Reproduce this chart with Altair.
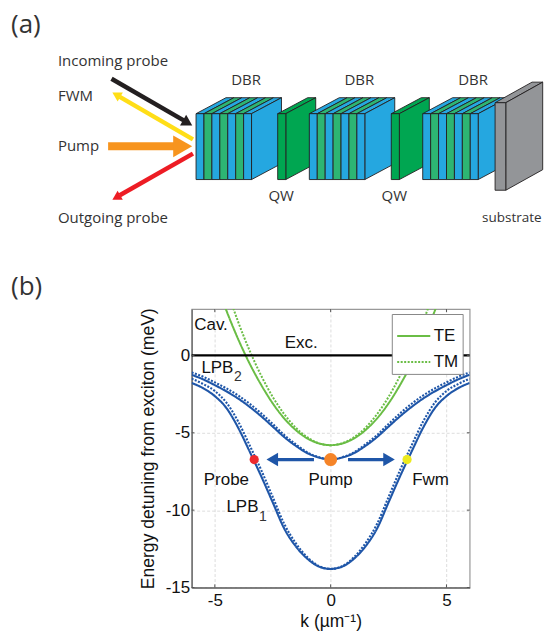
import altair as alt
import pandas as pd

# ---------- panel (b) data ----------
lp_k = [-6, -5.5, -5, -4.5, -4, -3.5, -3, -2.5, -2, -1.5, -1, -0.5, 0,
        0.5, 1, 1.5, 2, 2.5, 3, 3.5, 4, 4.5, 5, 5.5, 6]
lpb2_te = [-1.25, -1.55, -1.92, -2.32, -2.78, -3.32, -3.93, -4.6, -5.28, -5.85, -6.32, -6.6, -6.72,
           -6.6, -6.32, -5.85, -5.28, -4.6, -3.93, -3.32, -2.78, -2.32, -1.92, -1.55, -1.25]
lpb2_tm = [-1.1, -1.38, -1.74, -2.13, -2.58, -3.12, -3.74, -4.43, -5.15, -5.75, -6.27, -6.58, -6.72,
           -6.58, -6.27, -5.75, -5.15, -4.43, -3.74, -3.12, -2.58, -2.13, -1.74, -1.38, -1.1]
lpb1_te = [-1.78, -2.12, -2.63, -3.4, -4.65, -6.2, -7.8, -9.5, -11.2, -12.35, -13.15, -13.65, -13.8,
           -13.65, -13.15, -12.35, -11.2, -9.5, -7.8, -6.2, -4.65, -3.4, -2.63, -2.12, -1.78]
lpb1_tm = [-1.5, -1.85, -2.3, -3.05, -4.25, -5.8, -7.4, -9.15, -10.9, -12.15, -13.05, -13.62, -13.8,
           -13.62, -13.05, -12.15, -10.9, -9.15, -7.4, -5.8, -4.25, -3.05, -2.3, -1.85, -1.5]
cav_k = [-5, -4.5, -4, -3.5, -3, -2.5, -2, -1.5, -1, -0.5, 0, 0.5, 1, 1.5, 2, 2.5, 3, 3.5, 4, 4.5, 5]
cav_te = [4.95, 2.9, 1.08, -0.52, -1.9, -3.1, -4.08, -4.83, -5.37, -5.69, -5.8,
          -5.69, -5.37, -4.83, -4.08, -3.1, -1.9, -0.52, 1.08, 2.9, 4.95]
cav_tm = [6.7, 4.35, 2.2, 0.32, -1.3, -2.68, -3.8, -4.68, -5.3, -5.68, -5.8,
          -5.68, -5.3, -4.68, -3.8, -2.68, -1.3, 0.32, 2.2, 4.35, 6.7]

point_names = ["Probe", "Pump", "Fwm"]
point_k = [-3.3, 0, 3.3]
point_e = [-6.73, -6.73, -6.73]
point_colors = ["#ee2a2e", "#f58428", "#ecea1e"]
point_sizes = [85, 170, 85]

plot_labels = ["Cav.", "Exc.", "LPB", "Probe", "Pump", "Fwm", "LPB"]
plot_label_k = [-5.89, -1.27, -5.58, -4.5, 0, 4.31, -4.5]
plot_label_e = [1.98, 0.8, -0.81, -8.02, -8.02, -8.02, -9.78]
plot_label_align = ["left", "center", "left", "center", "center", "center", "left"]
sub_labels = ["2", "1"]
sub_k = [-4.0, -2.92]
sub_e = [-1.37, -10.45]

arrow_k0 = [-0.72, 0.75]
arrow_k1 = [-2.4, 2.4]
arrow_tip_k = [-2.52, 2.52]
arrow_e = [-6.73, -6.73]
arrow_shape = ["triangle-left", "triangle-right"]

x_ticks = [-5, 0, 5]
y_ticks = [-15, -10, -5, 0]

# ---------- panel (a) data ----------
stripe_colors = ["#25a7e0", "#2db573", "#25a7e0", "#2db573", "#25a7e0", "#2db573", "#25a7e0"]
dbr_left = [196.4, 309.9, 423.5]
qw_left = [278.2, 392.0]
block_top, block_bottom = 113.3, 179.3
stripe_w = 7.94
depth_x, depth_y = 30, 16
qw_w = 8.1
sub_left, sub_right, sub_top, sub_bottom = 496, 506.7, 102.3, 190
sub_dx, sub_dy = 37, 20.6
blue, green_qw, gray, edge = "#25a7e0", "#00a651", "#939598", "#231f20"

diagram_labels = ["Incoming probe", "FWM", "Pump", "Outgoing probe",
                  "DBR", "DBR", "DBR", "QW", "QW"]
diagram_x = [58, 58, 58, 58, 246.5, 360, 474, 281.7, 395]
diagram_y = [61, 96, 146, 217.7, 80, 80, 80, 195.7, 195.7]
diagram_align = ["left"] * 4 + ["center"] * 5
substrate_label = ["substrate"]
substrate_x = [483]
substrate_y = [218]
panel_tags = ["(a)", "(b)"]
panel_tag_x = [11, 11]
panel_tag_y = [24, 287]

beam_x0 = [111.7, 193.3, 108.3, 193.3]
beam_y0 = [78.3, 139, 146, 153.3]
beam_x1 = [184, 120, 175, 120]
beam_y1 = [120, 96.5, 146, 195]
beam_colors = ["#231f20", "#ffde17", "#f7941e", "#ed1c24"]
beam_w = [4.5, 4.5, 8, 4.5]
head_x = [188, 116.5, 183, 116.5]
head_y = [122.4, 94.3, 146, 197.2]
head_angle = [120, 300, 90, 240]
head_size = [150, 110, 480, 110]

# ---------- panel (a) ----------
W_A, H_A = 536, 299
sx = alt.Scale(domain=[8, 8 + W_A], nice=False, zero=False)
sy = alt.Scale(domain=[8 + H_A, 8], nice=False, zero=False)
X = alt.X("x:Q", scale=sx, axis=None)
Y = alt.Y("y:Q", scale=sy, axis=None)
LW = 0.9


def area_v(rows):
    d = pd.DataFrame(rows, columns=["face", "x", "y", "y2", "c"])
    return alt.Chart(d).mark_area(orient="vertical", stroke=edge, strokeWidth=LW, opacity=1, strokeJoin="round").encode(
        x=X, y=Y, y2="y2:Q", detail="face:N", fill=alt.Fill("c:N", scale=None))


def area_h(rows):
    d = pd.DataFrame(rows, columns=["face", "y", "x", "x2", "c"])
    return alt.Chart(d).mark_area(orient="horizontal", stroke=edge, strokeWidth=LW, opacity=1, strokeJoin="round").encode(
        y=Y, x=X, x2="x2:Q", detail="face:N", fill=alt.Fill("c:N", scale=None))


def dbr(left):
    tops, fronts = [], []
    right = left + stripe_w * len(stripe_colors)
    for i, c in enumerate(stripe_colors):
        a = left + i * stripe_w
        b = a + stripe_w
        tops += [[i, block_top, a, b, c], [i, block_top - depth_y, a + depth_x, b + depth_x, c]]
        fronts += [[i, a, block_top, block_bottom, c], [i, b, block_top, block_bottom, c]]
    side = [[9, right, block_top, block_bottom, blue],
            [9, right + depth_x, block_top - depth_y, block_bottom - depth_y, blue]]
    return [area_h(tops), area_v(side), area_v(fronts)]


def box(left, w, top, bottom, dx, dy, c):
    right = left + w
    t = [[0, top, left, right, c], [0, top - dy, left + dx, right + dx, c]]
    s = [[1, right, top, bottom, c], [1, right + dx, top - dy, bottom - dy, c]]
    f = [[2, left, top, bottom, c], [2, right, top, bottom, c]]
    return [area_h(t), area_v(s), area_v(f)]


layers_a = []
layers_a += dbr(dbr_left[0]) + box(qw_left[0], qw_w, block_top, block_bottom, depth_x, depth_y, green_qw)
layers_a += dbr(dbr_left[1]) + box(qw_left[1], qw_w, block_top, block_bottom, depth_x, depth_y, green_qw)
layers_a += dbr(dbr_left[2])
layers_a += box(sub_left, sub_right - sub_left, sub_top, sub_bottom, sub_dx, sub_dy, gray)

for i in range(len(beam_colors)):
    beam = pd.DataFrame({"x": [beam_x0[i]], "y": [beam_y0[i]], "x2": [beam_x1[i]], "y2": [beam_y1[i]]})
    layers_a.append(alt.Chart(beam).mark_rule(color=beam_colors[i], strokeWidth=beam_w[i]).encode(
        x=X, y=Y, x2="x2:Q", y2="y2:Q"))
    head = pd.DataFrame({"x": [head_x[i]], "y": [head_y[i]]})
    layers_a.append(alt.Chart(head).mark_point(shape="triangle-up", filled=True, opacity=1, strokeWidth=0,
                                               size=head_size[i], angle=head_angle[i],
                                               color=beam_colors[i]).encode(x=X, y=Y))

diag_df = pd.DataFrame({"t": diagram_labels, "x": diagram_x, "y": diagram_y, "a": diagram_align})
for al in ["left", "center"]:
    layers_a.append(alt.Chart(diag_df[diag_df.a == al]).mark_text(
        font="Open Sans", fontSize=15, color="#333333", align=al, baseline="middle").encode(x=X, y=Y, text="t:N"))
sub_text = pd.DataFrame({"t": substrate_label, "x": substrate_x, "y": substrate_y})
layers_a.append(alt.Chart(sub_text).mark_text(
    font="Open Sans", fontSize=13.5, color="#333333", align="left", baseline="middle").encode(x=X, y=Y, text="t:N"))
tag_df = pd.DataFrame({"t": panel_tags, "x": panel_tag_x, "y": panel_tag_y})
layers_a.append(alt.Chart(tag_df).mark_text(
    font="Open Sans", fontSize=26, color="#333333", align="left", baseline="middle").encode(x=X, y=Y, text="t:N"))

panel_a = alt.layer(*layers_a).properties(width=W_A, height=H_A)

# ---------- panel (b) ----------
W_B, H_B = 278.5, 279
kx = alt.Scale(domain=[-6, 6], nice=False, zero=False)
ey = alt.Scale(domain=[-15, 3], nice=False, zero=False)
FONT = "Liberation Sans"
AX = dict(labelFont=FONT, labelFontSize=17, labelColor="#111111", titleFont=FONT,
          titleFontWeight="normal", titleColor="#111111", gridColor="#dddddd", gridDash=[3, 2], grid=True,
          gridWidth=1, domainColor="#666666", domainWidth=1.3, tickSize=0, labelExpr="'' + datum.value")
KX = alt.X("k:Q", scale=kx, axis=alt.Axis(values=x_ticks, title="k (µm⁻¹)", labelPadding=5, titlePadding=4,
                                          titleFontSize=17.5, **AX))
EY = alt.Y("e:Q", scale=ey, axis=alt.Axis(values=y_ticks, title="Energy detuning from exciton (meV)",
                                          labelPadding=2, titlePadding=8, titleFontSize=17.6, **AX))

rows = []
for name, pol, ks, es in [("cav", "TE", cav_k, cav_te), ("cav", "TM", cav_k, cav_tm)]:
    rows += [(name + pol, pol, k, e) for k, e in zip(ks, es)]
cav_df = pd.DataFrame(rows, columns=["curve", "pol", "k", "e"])
rows = []
for name, pol, es in [("l1", "TM", lpb1_tm), ("l2", "TM", lpb2_tm), ("l1", "TE", lpb1_te), ("l2", "TE", lpb2_te)]:
    rows += [(name + pol, pol, k, e) for k, e in zip(lp_k, es)]
lp_df = pd.DataFrame(rows, columns=["curve", "pol", "k", "e"])

dash = alt.StrokeDash("pol:N", scale=alt.Scale(domain=["TE", "TM"], range=[[1, 0], [2, 1.5]]),
                      legend=alt.Legend(orient="none", legendX=384.5, legendY=306, title=None,
                                        symbolType="stroke", symbolSize=1100, symbolStrokeWidth=2,
                                        symbolStrokeColor="#6abd45", labelFont=FONT, labelFontSize=17,
                                        labelColor="#111111", strokeColor="#888888", fillColor="white",
                                        padding=4, rowPadding=0, labelOffset=2))

cav_line = alt.Chart(cav_df).mark_line(color="#6abd45", strokeWidth=2, interpolate="monotone", clip=True).encode(
    x=KX, y=EY, detail="curve:N", strokeDash=dash)
lp_line = alt.Chart(lp_df).mark_line(color="#1f56a8", strokeWidth=2.1, interpolate="monotone", clip=True).encode(
    x=KX, y=EY, detail="curve:N", strokeDash=dash)
exc = alt.Chart(pd.DataFrame({"e": [0]})).mark_rule(color="black", strokeWidth=2.2).encode(y=EY)

tick_rows_x = []
for t in x_ticks:
    tick_rows_x += [(t, -15, -14.8), (t, 3, 2.8)]
tick_rows_y = []
for t in y_ticks:
    tick_rows_y += [(t, -6, -5.88), (t, 6, 5.88)]
tx = alt.Chart(pd.DataFrame(tick_rows_x, columns=["k", "e", "e2"])).mark_rule(color="#555555").encode(
    x=KX, y=EY, y2="e2:Q")
ty = alt.Chart(pd.DataFrame(tick_rows_y, columns=["e", "k", "k2"])).mark_rule(color="#555555").encode(
    y=EY, x=KX, x2="k2:Q")

a_df = pd.DataFrame({"k": arrow_k0, "k2": arrow_k1, "e": arrow_e})
a_line = alt.Chart(a_df).mark_rule(color="#1f56a8", strokeWidth=3.2).encode(x=KX, x2="k2:Q", y=EY)
a_heads = []
for i in range(2):
    a_heads.append(alt.Chart(pd.DataFrame({"k": [arrow_tip_k[i]], "e": [arrow_e[i]]})).mark_point(
        shape=arrow_shape[i], filled=True, opacity=1, strokeWidth=0, size=180, color="#1f56a8").encode(x=KX, y=EY))
pts = pd.DataFrame({"k": point_k, "e": point_e, "c": point_colors, "s": point_sizes})
pt_mark = alt.Chart(pts).mark_circle(opacity=1).encode(
    x=KX, y=EY, color=alt.Color("c:N", scale=None), size=alt.Size("s:Q", scale=None))

lab_df = pd.DataFrame({"t": plot_labels, "k": plot_label_k, "e": plot_label_e, "a": plot_label_align})
txt = []
for al in ["left", "center"]:
    txt.append(alt.Chart(lab_df[lab_df.a == al]).mark_text(
        font=FONT, fontSize=17, color="#111111", align=al, baseline="middle").encode(x=KX, y=EY, text="t:N"))
sub_df = pd.DataFrame({"t": sub_labels, "k": sub_k, "e": sub_e})
txt.append(alt.Chart(sub_df).mark_text(font=FONT, fontSize=14, color="#333333", align="center",
                                       baseline="middle").encode(x=KX, y=EY, text="t:N"))

panel_b = alt.layer(cav_line, lp_line, exc, tx, ty, a_line, *a_heads, pt_mark, *txt).properties(
    width=W_B, height=H_B, view=alt.ViewBackground(stroke="#999999", strokeWidth=1.2))

spacer = alt.Chart(pd.DataFrame({"x": [0], "y": [0]})).mark_point(opacity=0).encode(
    x=alt.X("x:Q", axis=None), y=alt.Y("y:Q", axis=None)).properties(width=130, height=H_B)

chart = alt.vconcat(panel_a, alt.hconcat(spacer, panel_b, spacing=0), spacing=0).properties(padding=0).configure_view(
    strokeWidth=0)
chart.save("out.html", embed_options={"renderer": "svg", "actions": False})
